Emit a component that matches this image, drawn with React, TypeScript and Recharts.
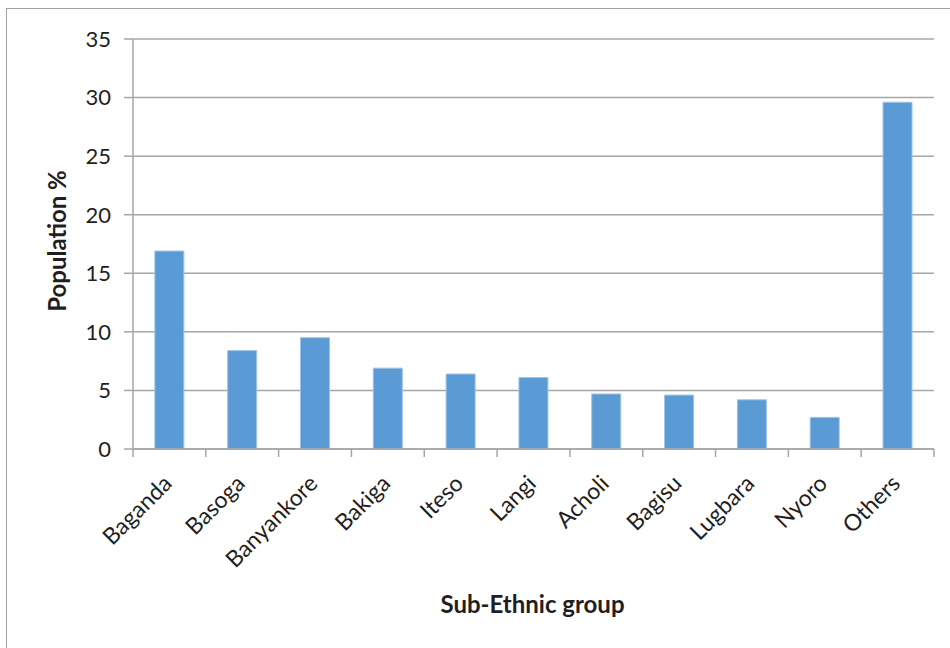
import React from 'react';
import { BarChart, Bar, XAxis, YAxis, CartesianGrid } from 'recharts';

const categories = ['Baganda', 'Basoga', 'Banyankore', 'Bakiga', 'Iteso', 'Langi', 'Acholi', 'Bagisu', 'Lugbara', 'Nyoro', 'Others'];
const populationPct = [16.9, 8.4, 9.5, 6.9, 6.4, 6.1, 4.7, 4.6, 4.2, 2.7, 29.6];
const yTicks = [0, 5, 10, 15, 20, 25, 30, 35];

const data = categories.map((name, i) => ({ name, value: populationPct[i] }));

const FONT = 'Lato, "Open Sans", sans-serif';
const TEXT = '#1f1f1f';
const GRID = '#a6a6a6';

const XTick = (props: any) => {
  const { x, y, payload, index, width } = props;
  const half = payload && typeof payload.offset === 'number' && payload.offset > 0 ? payload.offset : width / categories.length / 2;
  const isLast = index === categories.length - 1;
  return (
    <g>
      <line x1={x - half} x2={x - half} y1={y} y2={y + 8} stroke={GRID} strokeWidth={1.5} />
      {isLast && <line x1={x + half} x2={x + half} y1={y} y2={y + 8} stroke={GRID} strokeWidth={1.5} />}
      <g transform={`translate(${x + 4},${y + 36})`}>
        <text textAnchor="end" transform="rotate(-45)" fill={TEXT} fontSize={23} fontFamily={FONT}>
          {payload.value}
        </text>
      </g>
    </g>
  );
};

const YTitle = (props: any) => {
  const vb = props.viewBox || {};
  const cy = (vb.y ?? 39) + (vb.height ?? 410) / 2;
  return (
    <text
      x={0}
      y={0}
      transform={`translate(66,${cy - 3}) rotate(-90)`}
      textAnchor="middle"
      fill={TEXT}
      fontSize={24}
      fontWeight="bold"
      fontFamily={FONT}
    >
      Population %
    </text>
  );
};

const XTitle = (props: any) => {
  const vb = props.viewBox || {};
  const cx = (vb.x ?? 133) + (vb.width ?? 801) / 2;
  return (
    <text x={cx - 1} y={613} textAnchor="middle" fill={TEXT} fontSize={24} fontWeight="bold" fontFamily={FONT}>
      Sub-Ethnic group
    </text>
  );
};

export default function App() {
  return (
    <div style={{ position: 'absolute', left: 0, top: 0, width: 950, height: 648, overflow: 'hidden', background: '#fff' }}>
      <div
        style={{
          position: 'absolute',
          left: 6,
          top: 8,
          width: 1000,
          height: 1000,
          border: '1.5px solid #a0a0a0',
          boxSizing: 'border-box',
        }}
      />
      <div style={{ position: 'absolute', left: 0, top: 0 }}>
        <BarChart
          width={950}
          height={648}
          data={data}
          margin={{ top: 39, right: 16, bottom: 0, left: 0 }}
          barCategoryGap="30%"
        >
          <CartesianGrid vertical={false} stroke={GRID} strokeWidth={1.5} />
          <XAxis
            dataKey="name"
            height={199}
            interval={0}
            tickLine={false}
            tickSize={0}
            tickMargin={0}
            axisLine={{ stroke: GRID, strokeWidth: 1.5 }}
            tick={<XTick />}
            label={<XTitle />}
          />
          <YAxis
            width={133}
            domain={[0, 35]}
            ticks={yTicks}
            interval={0}
            tickSize={9}
            tickMargin={13}
            axisLine={{ stroke: GRID, strokeWidth: 1.5 }}
            tickLine={{ stroke: GRID, strokeWidth: 1.5 }}
            tick={{ fill: TEXT, fontSize: 22, fontFamily: FONT }}
            label={<YTitle />}
          />
          <Bar dataKey="value" fill="#5b9bd5" stroke="#9dc3e6" strokeWidth={1} isAnimationActive={false} />
        </BarChart>
      </div>
    </div>
  );
}
